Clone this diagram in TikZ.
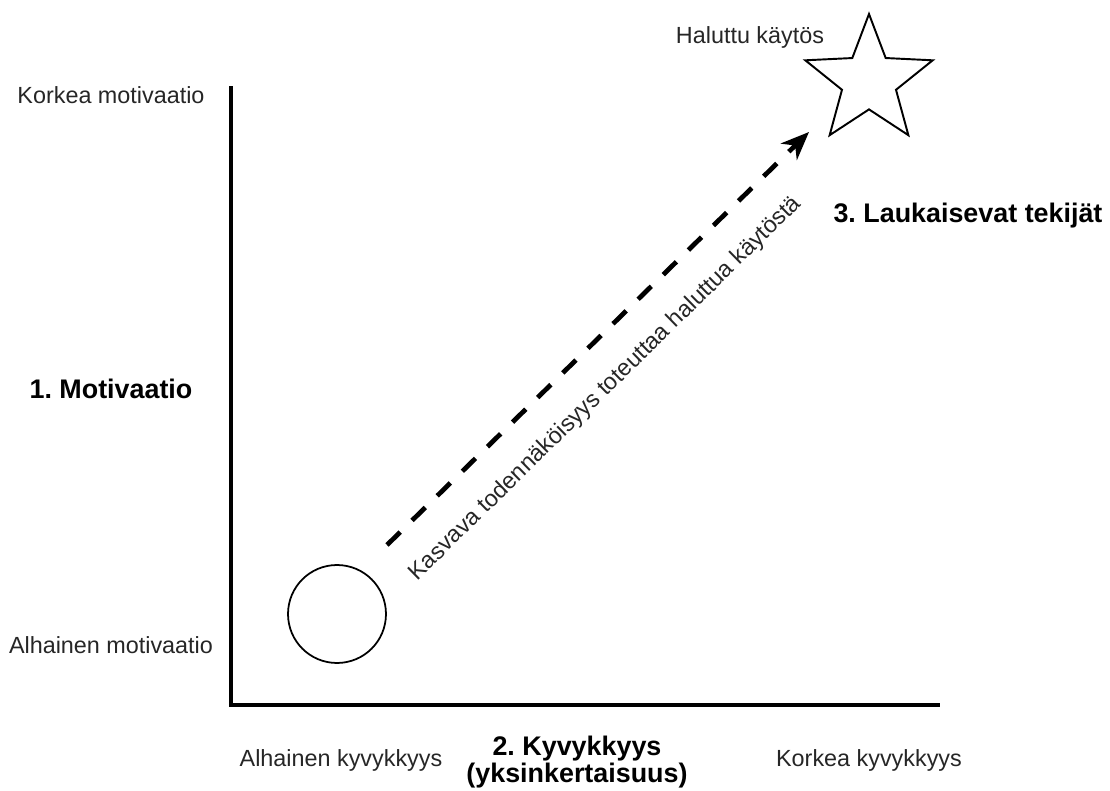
\documentclass[tikz,border=0pt]{standalone}
\usepackage{fontspec}
\setmainfont{Liberation Sans}
\frenchspacing
\usetikzlibrary{positioning, arrows.meta, shapes.geometric, calc}

\begin{document}
\begin{tikzpicture}[
    x=0.02cm, y=-0.02cm,
    axis_line/.style = {line width=2.1pt, line cap=rect},
    plain_lbl/.style = {inner sep=0pt, text=black!85, font=\fontsize{13.3}{16}\selectfont},
    bold_lbl/.style = {inner sep=0pt, text=black, font=\fontsize{15.3}{15}\selectfont\bfseries, align=center},
    % Lähtötila ja tavoite
    start_box/.style = {draw, circle, line width=1pt, minimum size=1.96cm, inner sep=0pt},
    goal_box/.style = {draw, star, star points=5, star point ratio=2.36, line width=1.1pt, minimum size=2.68cm, inner sep=0pt},
    arrow_up/.style = {-{Stealth[length=16pt, width=13pt, inset=5pt]}, line width=2.7pt, dash pattern=on 10.5pt off 9.5pt}
]
\useasboundingbox (0,0) rectangle (1110,791);

% --- Akselit ---
\coordinate (origin) at (231,705);
\coordinate (y_top) at (231,88);
\coordinate (x_end) at (938,705);
\draw[axis_line] (y_top) |- (x_end);

% --- Pystyakselin tekstit ---
\node[plain_lbl, anchor=base] (high_mot) at (111,103) {Korkea motivaatio};
\node[bold_lbl, anchor=base] (motivation) at (111,398) {1. Motivaatio};
\node[plain_lbl, anchor=base] (low_mot) at (111,653) {Alhainen motivaatio};

% --- Vaaka-akselin tekstit ---
\node[plain_lbl, anchor=base] (low_abil) at (341,766) {Alhainen kyvykkyys};
\node[bold_lbl, anchor=base] (ability) at (577,782) {2. Kyvykkyys\\(yksinkertaisuus)};
\node[plain_lbl, anchor=base] (high_abil) at (869,766) {Korkea kyvykkyys};

% --- Ympyrä ja tähti ---
\node[start_box] (start) at (337,614) {};
\node[goal_box] (goal) at (869,81) {};
\node[plain_lbl, anchor=base] (goal_lbl) at (750,43) {Haluttu käytös};
\node[bold_lbl, anchor=base] (triggers) at (968,222) {3. Laukaisevat tekijät};

% --- Nuoli ---
\coordinate (arr_from) at (387,545);
\coordinate (arr_to) at (809,132);
\draw[arrow_up] (arr_from) -- node[plain_lbl, sloped, pos=0.45, below=0.56cm] (arr_lbl) {Kasvava todennäköisyys toteuttaa haluttua käytöstä} (arr_to);

\end{tikzpicture}
\end{document}
